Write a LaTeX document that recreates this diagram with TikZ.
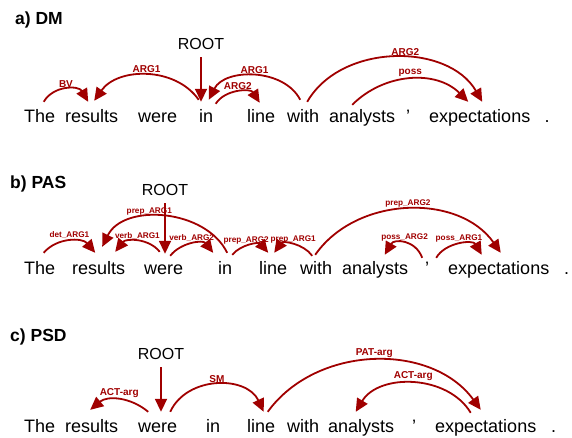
\documentclass[tikz,border=0pt]{standalone}
\usepackage{fontspec}
\setmainfont{Liberation Sans}
\usetikzlibrary{arrows.meta}
\definecolor{arcred}{RGB}{160,0,0}

\tikzset{
	word/.style={font=\fontsize{18}{20}\selectfont, anchor=base west, inner xsep=0pt, inner ysep=7pt, text height=13pt, text depth=4pt},
	root/.style={font=\fontsize{16}{18}\selectfont, anchor=base, inner xsep=0pt, inner ysep=8pt, text depth=0pt},
	title/.style={font=\bfseries\fontsize{17.5}{20}\selectfont, anchor=base west, inner sep=0pt},
	arc/.style={arcred, line width=1.8pt, -{Triangle[length=13pt,width=12pt]}},
	lbl/.style={font=\bfseries\fontsize{10}{12}\selectfont, text=arcred, inner sep=1.5pt, above},
	slbl/.style={lbl, font=\bfseries\fontsize{8.2}{10}\selectfont},
}

\begin{document}
\begin{tikzpicture}[x=1pt, y=1pt]
		\useasboundingbox (0,0) rectangle (572,-437);
		% a) DM
		\node[title] (a-title) at (15,-24) {a) DM};
		\node[word] (a-the) at (24,-122) {The};
		\node[word] (a-results) at (65,-122) {results};
		\node[word] (a-were) at (138,-122) {were};
		\node[word] (a-in) at (199,-122) {in};
		\node[word] (a-line) at (247,-122) {line};
		\node[word] (a-with) at (287,-122) {with};
		\node[word] (a-analysts) at (329,-122) {analysts};
		\node[word] (a-apos) at (406,-122) {’};
		\node[word] (a-expectations) at (429,-122) {expectations};
		\node[word] (a-dot) at (544.5,-122) {.};
		\node[root] (a-root) at (201,-49) {ROOT};
		\draw[arc] (a-root.south) -- (a-root.south |- a-in.north);
		\draw[arc] ([xshift=4pt]a-the.north) to[out=60, in=120, looseness=1.1] node[lbl] {BV} ([xshift=-3.5pt]a-results.north);
		\draw[arc] ([xshift=-7.5pt,yshift=2pt]a-in.north) to[out=125, in=55] node[lbl] {ARG1} ([xshift=2.5pt,yshift=1pt]a-results.north);
		\draw[arc] ([xshift=-3pt,yshift=2pt]a-with.north) to[out=117, in=63] node[lbl] {ARG1} ([xshift=2.5pt,yshift=2pt]a-in.north);
		\draw[arc] ([xshift=9.5pt,yshift=-2pt]a-in.north) to[out=58, in=122] node[lbl] {ARG2} ([xshift=-1.5pt,yshift=-1pt]a-line.north);
		\draw[arc] ([xshift=4pt]a-with.north) to[out=60, in=120] node[lbl, pos=0.55] {ARG2} ([xshift=2.5pt]a-expectations.north);
		\draw[arc] ([xshift=-10pt,yshift=-3pt]a-analysts.north) to[out=45, in=135] node[lbl] {poss} ([xshift=-11.5pt]a-expectations.north);

		% b) PAS
		\node[title] (b-title) at (10,-188) {b) PAS};
		\node[word] (b-the) at (24,-274) {The};
		\node[word] (b-results) at (72,-274) {results};
		\node[word] (b-were) at (144,-274) {were};
		\node[word] (b-in) at (218,-274) {in};
		\node[word] (b-line) at (259,-274) {line};
		\node[word] (b-with) at (300,-274) {with};
		\node[word] (b-analysts) at (342,-274) {analysts};
		\node[word] (b-apos) at (425,-274) {’};
		\node[word] (b-expectations) at (448,-274) {expectations};
		\node[word] (b-dot) at (564,-274) {.};
		\node[root] (b-root) at (165,-195) {ROOT};
		\draw[arc] ([xshift=4pt,yshift=1pt]b-the.north) to[out=50, in=130] node[slbl] {det\_ARG1} ([xshift=-3.5pt,yshift=1pt]b-results.north);
		\draw[arc] ([xshift=2pt,yshift=1pt]b-in.north) to[out=116, in=64] node[slbl, pos=0.6] {prep\_ARG1} ([xshift=3.5pt,yshift=7pt]b-results.north);
		\draw[arc] ([xshift=-4pt,yshift=2pt]b-were.north) to[out=128, in=52] node[slbl] {verb\_ARG1} ([xshift=16.5pt,yshift=2pt]b-results.north);
		\draw[arc] ([xshift=6.5pt,yshift=-2pt]b-were.north) to[out=52, in=128] node[slbl] {verb\_ARG2} ([xshift=-12pt,yshift=1pt]b-in.north);
		\draw[arc] ([xshift=7pt,yshift=-1pt]b-in.north) to[out=50, in=130] node[slbl, pos=0.4] {prep\_ARG2} ([xshift=-5pt,yshift=1pt]b-line.north);
		\draw[arc] ([xshift=-4pt,yshift=-2pt]b-with.north) to[out=125, in=55] node[slbl] {prep\_ARG1} ([xshift=1pt,yshift=1pt]b-line.north);
		\draw[arc] ([xshift=-1pt,yshift=-1pt]b-with.north) to[out=55, in=125] node[slbl] {prep\_ARG2} ([xshift=2pt,yshift=1pt]b-expectations.north);
		\draw[arc] ([xshift=-5pt,yshift=-4pt]b-apos.north) to[out=110, in=60, looseness=1.3] node[slbl] {poss\_ARG2} ([xshift=9.5pt,yshift=-1pt]b-analysts.north);
		\draw[arc] ([xshift=9pt,yshift=-4pt]b-apos.north) to[out=60, in=120] node[slbl] {poss\_ARG1} ([xshift=-17pt,yshift=-1pt]b-expectations.north);
		\draw[arc] (b-root.south) -- (b-root.south |- b-were.north);

		% c) PSD
		\node[title] (c-title) at (10,-341) {c) PSD};
		\node[word] (c-the) at (24,-432) {The};
		\node[word] (c-results) at (65,-432) {results};
		\node[word] (c-were) at (138,-432) {were};
		\node[word] (c-in) at (206,-432) {in};
		\node[word] (c-line) at (247,-432) {line};
		\node[word] (c-with) at (287,-432) {with};
		\node[word] (c-analysts) at (328,-432) {analysts};
		\node[word] (c-apos) at (412,-432) {’};
		\node[word] (c-expectations) at (435,-432) {expectations};
		\node[word] (c-dot) at (551,-432) {.};
		\node[root] (c-root) at (161,-359) {ROOT};
		\draw[arc] (c-root.south) -- (c-root.south |- c-were.north);
		\draw[arc] ([xshift=-9.5pt]c-were.north) to[out=140, in=40] node[lbl] {ACT-arg} ([xshift=-1.5pt,yshift=2pt]c-results.north);
		\draw[arc] ([xshift=12.5pt]c-were.north) to[out=65, in=115, looseness=1.1] node[lbl] {SM} ([xshift=2.5pt]c-line.north);
		\draw[arc] ([xshift=6.5pt]c-line.north) to[out=54, in=126] node[lbl] {PAT-arg} ([xshift=-5pt,yshift=2pt]c-expectations.north);
		\draw[arc] ([xshift=-15pt,yshift=-1pt]c-expectations.north) to[out=121, in=59] node[lbl] {ACT-arg} ([xshift=-5.5pt]c-analysts.north);
	\end{tikzpicture}
\end{document}
